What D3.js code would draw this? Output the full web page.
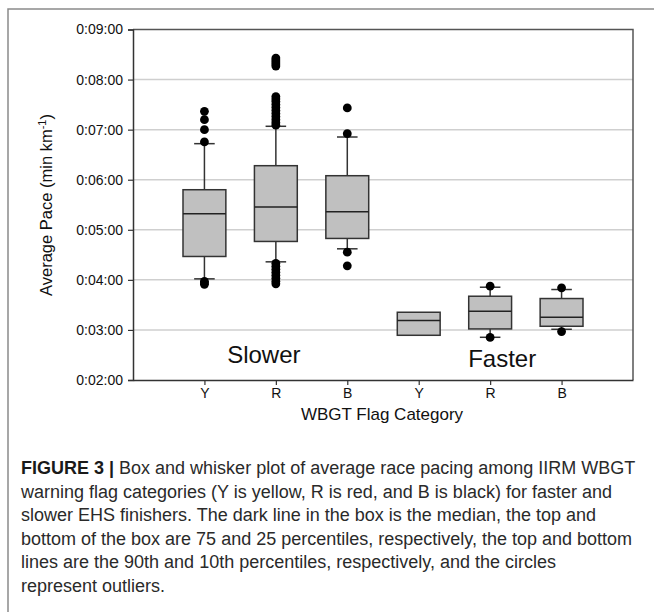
<!DOCTYPE html>
<html>
<head>
<meta charset="utf-8">
<script src="https://cdn.jsdelivr.net/npm/d3@7"></script>
<style>
  body { margin: 0; background: #fff; }
  svg { display: block; }
</style>
</head>
<body>
<div id="chart"></div>
<script>
// Datos (pace in minutes per km)
const keys = ['S-Y', 'S-R', 'S-B', 'F-Y', 'F-R', 'F-B'];
const flags = ['Y', 'R', 'B', 'Y', 'R', 'B'];
const p10 = [4.02, 4.36, 4.62, 2.893, 2.853, 3.013];
const q1 = [4.467, 4.767, 4.827, 2.893, 3.02, 3.073];
const med = [5.32, 5.453, 5.36, 3.187, 3.373, 3.253];
const q3 = [5.8, 6.28, 6.08, 3.353, 3.673, 3.627];
const p90 = [6.72, 7.067, 6.853, 3.353, 3.853, 3.807];
const outliers = [
  [7.366, 7.2, 7.0, 6.754, 3.97, 3.94, 3.91],
  [8.43, 8.39, 8.35, 8.31, 8.27, 7.66, 7.61, 7.56, 7.5, 7.44, 7.38, 7.32, 7.26, 7.2, 7.14, 7.09,
   4.33, 4.27, 4.21, 4.15, 4.09, 4.03, 3.97, 3.92],
  [7.433, 6.92, 4.553, 4.28],
  [],
  [3.873, 2.85],
  [3.84, 2.967]
];
const yTicks = [2, 3, 4, 5, 6, 7, 8, 9];
const captionLines = [
  'Box and whisker plot of average race pacing among IIRM WBGT',
  'warning flag categories (Y is yellow, R is red, and B is black) for faster and',
  'slower EHS finishers. The dark line in the box is the median, the top and',
  'bottom of the box are 75 and 25 percentiles, respectively, the top and bottom',
  'lines are the 90th and 10th percentiles, respectively, and the circles',
  'represent outliers.'
];

const W = 654, H = 612;
const margin = {top: 29.5, right: 21, bottom: 232, left: 133};
const width = W - margin.left - margin.right,
      height = H - margin.top - margin.bottom;

const root = d3.select('#chart').append('svg')
  .attr('width', W)
  .attr('height', H);

// marco de la figura
root.append('path')
  .attr('d', 'M8,612 V9 H654')
  .attr('fill', 'none')
  .attr('stroke', '#8a8a8a')
  .attr('stroke-width', 1.5);

const svg = root.append('g')
  .attr('transform', 'translate(' + margin.left + ',' + margin.top + ')');

const x = d3.scalePoint()
  .domain(keys)
  .range([0, width])
  .padding(1);

const y = d3.scaleLinear()
  .domain([2, 9])
  .range([height, 0]);

// gridlines
svg.append('g')
  .selectAll('line')
  .data(yTicks.filter(d => d > 2 && d < 9))
  .enter().append('line')
  .attr('x1', 0).attr('x2', width)
  .attr('y1', d => y(d)).attr('y2', d => y(d))
  .attr('stroke', '#cfcfcf')
  .attr('stroke-width', 1.5);

// top and right border
svg.append('path')
  .attr('d', 'M0,0 H' + width + ' V' + height)
  .attr('fill', 'none')
  .attr('stroke', '#555')
  .attr('stroke-width', 1.5);

// ejes
const yAxis = svg.append('g')
  .call(d3.axisLeft(y).tickValues(yTicks).tickSize(5).tickPadding(5)
    .tickFormat(d => '0:0' + d + ':00'));
const xAxis = svg.append('g')
  .attr('transform', 'translate(0,' + height + ')')
  .call(d3.axisBottom(x).tickSize(5).tickPadding(3).tickSizeOuter(0)
    .tickFormat((d, i) => flags[i]));

[yAxis, xAxis].forEach(function(g) {
  g.select('.domain').attr('stroke', '#333').attr('stroke-width', 1.5);
  g.selectAll('.tick line').attr('stroke', '#333').attr('stroke-width', 1.2);
  g.selectAll('text')
    .attr('fill', '#111')
    .style('font-family', 'Liberation Sans, Arial, sans-serif')
    .style('font-size', '14px');
});

// boxes
const boxW = x.step() * 0.6, capW = boxW * 0.48;
const stats = keys.map((k, i) => ({k: k, i: i}));

const box = svg.selectAll('.box')
  .data(stats)
  .enter().append('g')
  .attr('class', 'box');

// whiskers
box.filter(d => p90[d.i] > q3[d.i]).append('line')
  .attr('x1', d => x(d.k)).attr('x2', d => x(d.k))
  .attr('y1', d => y(q3[d.i])).attr('y2', d => y(p90[d.i]))
  .attr('stroke', '#333').attr('stroke-width', 1.5);
box.filter(d => p10[d.i] < q1[d.i]).append('line')
  .attr('x1', d => x(d.k)).attr('x2', d => x(d.k))
  .attr('y1', d => y(q1[d.i])).attr('y2', d => y(p10[d.i]))
  .attr('stroke', '#333').attr('stroke-width', 1.5);
box.filter(d => p90[d.i] > q3[d.i]).append('line')
  .attr('x1', d => x(d.k) - capW / 2).attr('x2', d => x(d.k) + capW / 2)
  .attr('y1', d => y(p90[d.i])).attr('y2', d => y(p90[d.i]))
  .attr('stroke', '#333').attr('stroke-width', 1.5);
box.filter(d => p10[d.i] < q1[d.i]).append('line')
  .attr('x1', d => x(d.k) - capW / 2).attr('x2', d => x(d.k) + capW / 2)
  .attr('y1', d => y(p10[d.i])).attr('y2', d => y(p10[d.i]))
  .attr('stroke', '#333').attr('stroke-width', 1.5);

box.append('rect')
  .attr('x', d => x(d.k) - boxW / 2)
  .attr('width', boxW)
  .attr('y', d => y(q3[d.i]))
  .attr('height', d => y(q1[d.i]) - y(q3[d.i]))
  .attr('fill', '#c0c0c0')
  .attr('stroke', '#333')
  .attr('stroke-width', 1.5);

box.append('line')
  .attr('x1', d => x(d.k) - boxW / 2).attr('x2', d => x(d.k) + boxW / 2)
  .attr('y1', d => y(med[d.i])).attr('y2', d => y(med[d.i]))
  .attr('stroke', '#222').attr('stroke-width', 1.5);

// outliers
box.selectAll('circle')
  .data(d => outliers[d.i].map(v => ({k: d.k, v: v})))
  .enter().append('circle')
  .attr('cx', d => x(d.k))
  .attr('cy', d => y(d.v))
  .attr('r', 4.4)
  .attr('fill', '#000');

// group labels
svg.append('text')
  .attr('x', x('S-R') - 12)
  .attr('y', 333.5)
  .attr('text-anchor', 'middle')
  .style('font-family', 'Liberation Sans, Arial, sans-serif')
  .style('font-size', '24px')
  .attr('fill', '#111')
  .text('Slower');
svg.append('text')
  .attr('x', x('F-R') + 12)
  .attr('y', 337)
  .attr('text-anchor', 'middle')
  .style('font-family', 'Liberation Sans, Arial, sans-serif')
  .style('font-size', '24px')
  .attr('fill', '#111')
  .text('Faster');

// axis titles
svg.append('text')
  .attr('x', width / 2 - 1)
  .attr('y', height + 40)
  .attr('text-anchor', 'middle')
  .style('font-family', 'Liberation Sans, Arial, sans-serif')
  .style('font-size', '17px')
  .attr('fill', '#111')
  .text('WBGT Flag Category');

const yt = svg.append('text')
  .attr('transform', 'translate(' + (-81) + ',' + (205 - margin.top) + ') rotate(-90)')
  .attr('text-anchor', 'middle')
  .style('font-family', 'Liberation Sans, Arial, sans-serif')
  .style('font-size', '16.5px')
  .attr('fill', '#111');
yt.append('tspan').text('Average Pace (min km');
yt.append('tspan').attr('dy', -6).style('font-size', '11px').text('-1');
yt.append('tspan').attr('dy', 6).text(')');

// caption
const cap = root.append('g')
  .style('font-family', 'Liberation Sans, Arial, sans-serif')
  .style('font-size', '18px')
  .attr('fill', '#2a2a2a');
captionLines.forEach(function(line, i) {
  const t = cap.append('text')
    .attr('x', 21)
    .attr('y', 474 + i * 23.6);
  if (i === 0) {
    t.append('tspan').style('font-weight', 'bold').attr('fill', '#1a1a1a').text('FIGURE 3 | ');
  }
  t.append('tspan').text(line);
});
</script>
</body>
</html>
